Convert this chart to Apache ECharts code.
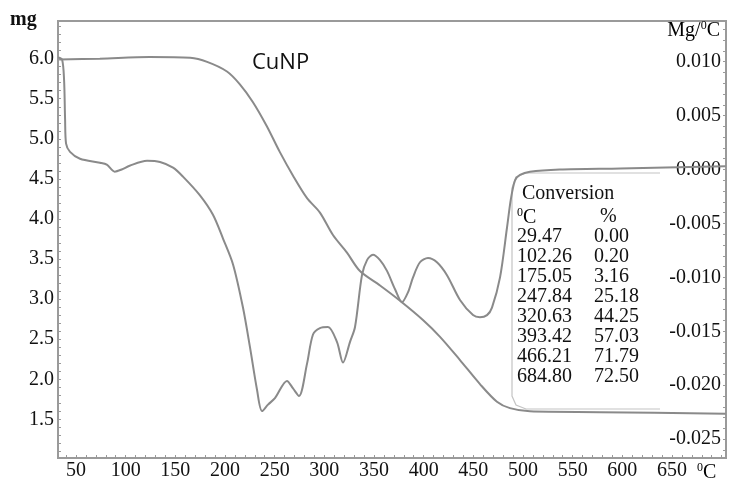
<!DOCTYPE html>
<html>
<head>
<meta charset="utf-8">
<script src="https://cdn.jsdelivr.net/npm/echarts@6/dist/echarts.min.js"></script>
<style>
html,body{margin:0;padding:0;background:#fff;}
#chart{width:730px;height:481px;}
</style>
</head>
<body>
<div id="chart"></div>
<script>
// TG curve (mass, mg) vs temperature (°C)
const tgTemp = [33, 74, 124, 165, 182, 202, 215, 228, 242, 255, 268.5, 282.6, 295.6, 308.7, 322.8, 335.9, 356.1, 376.2, 399.3, 416.5, 436.6, 456.7, 473.8, 486.9, 507, 577.5, 704];
const tgMass = [5.99, 6.0, 6.02, 6.01, 5.96, 5.84, 5.68, 5.46, 5.16, 4.84, 4.54, 4.26, 4.08, 3.80, 3.58, 3.35, 3.17, 2.98, 2.74, 2.53, 2.24, 1.94, 1.72, 1.64, 1.60, 1.59, 1.57];

// DTG curve (Mg/°C) vs temperature (°C)
const dtgTemp = [32, 36, 38, 39, 40, 44, 54, 74, 81, 89, 96, 104, 121.5, 134.6, 147.7, 157.7, 174.8, 187.9, 198, 208.1, 218.1, 225.2, 232.2, 237.3, 243.3, 250.3, 262.4, 268.5, 274.5, 282.6, 288.6, 295.6, 303.7, 312.8, 318.8, 325.8, 330.9, 337.9, 343, 349, 356.1, 363.1, 371.2, 378.2, 384.2, 389.3, 396.3, 404.4, 413.4, 423.5, 436.6, 449.7, 456.7, 463.8, 468.8, 476.9, 483.9, 487.9, 492, 497, 507, 537, 598, 704];
const dtgVal = [0.0104, 0.0102, 0.0083, 0.0047, 0.0024, 0.00164, 0.0010, 0.00063, 0.00045, -0.0002, 0.0000, 0.00035, 0.00081, 0.0007, 0.00017, -0.00066, -0.0024, -0.0042, -0.0064, -0.0088, -0.0128, -0.0165, -0.0204, -0.0224, -0.0218, -0.0212, -0.0196, -0.0203, -0.0210, -0.0180, -0.0153, -0.0147, -0.0146, -0.0160, -0.0179, -0.0160, -0.0146, -0.0098, -0.0084, -0.0079, -0.0084, -0.0094, -0.0111, -0.0123, -0.0114, -0.0100, -0.0086, -0.0082, -0.0086, -0.0098, -0.0121, -0.0135, -0.0137, -0.0135, -0.0128, -0.0100, -0.0054, -0.0027, -0.0010, -0.0005, -0.0002, 0.0000, 0.0001, 0.0003];

// Tick labels
const xTicks = [50, 100, 150, 200, 250, 300, 350, 400, 450, 500, 550, 600, 650];
const mgTicks = [1.5, 2.0, 2.5, 3.0, 3.5, 4.0, 4.5, 5.0, 5.5, 6.0];
const dtgTicks = [-0.025, -0.020, -0.015, -0.010, -0.005, 0.000, 0.005, 0.010];

// Conversion table
const convTemp = ['29.47', '102.26', '175.05', '247.84', '320.63', '393.42', '466.21', '684.80'];
const convPct = ['0.00', '0.20', '3.16', '25.18', '44.25', '57.03', '71.79', '72.50'];

// minor tick positions
const xMinor = []; for (let t = 40; t <= 700; t += 10) xMinor.push(t);
const mgMinor = []; for (let k = 11; k <= 64; k++) mgMinor.push(+(k / 10).toFixed(1));
const dtgMinor = []; for (let k = -26; k <= 13; k++) dtgMinor.push(+(k / 1000).toFixed(3));

const serif = 'Liberation Serif';
const axisCol = '#9a9a9a';
const lineCol = '#8a8a8a';

const chart = echarts.init(document.getElementById('chart'));

const richSup = {
  a: {fontFamily: serif, fontSize: 20, lineHeight: 22, color: '#111', verticalAlign: 'bottom'},
  s: {fontFamily: serif, fontSize: 12, lineHeight: 22, color: '#111', verticalAlign: 'top', padding: [1, 0, 0, 0]}
};
function supText(x, y, pre, post, align) {
  return {type: 'text', x: x, y: y, style: {
    text: (pre ? '{a|' + pre + '}' : '') + '{s|0}{a|' + post + '}',
    rich: richSup, align: align || 'left', verticalAlign: 'top'
  }};
}

const graphics = [];
graphics.push({type: 'text', left: 10, top: 10, style: {text: 'mg', font: 'bold 20px "Liberation Serif"', fill: '#111'}});
graphics.push(supText(720, 19, 'Mg/', 'C', 'right'));
graphics.push(supText(697, 461, '', 'C', 'left'));
graphics.push({type: 'text', left: 252, top: 52, style: {text: 'CuNP', font: '22px "Open Sans"', fill: '#111'}});
graphics.push({type: 'polyline', shape: {points: [[660, 173], [526, 173], [516, 177], [512, 188], [512, 396], [516, 405], [526, 409], [660, 409]]}, style: {stroke: '#c4c4c4', lineWidth: 1.2, fill: null}, silent: true});
graphics.push({type: 'text', left: 522, top: 184, style: {text: 'Conversion', font: '20px "Liberation Serif"', fill: '#111'}});
graphics.push(supText(517, 206, '', 'C', 'left'));
graphics.push({type: 'text', left: 600, top: 207, style: {text: '%', font: '20px "Liberation Serif"', fill: '#111'}});
for (let i = 0; i < convTemp.length; i++) {
  graphics.push({type: 'text', left: 517, top: 227 + i * 19.9, style: {text: convTemp[i], font: '20px "Liberation Serif"', fill: '#111'}});
  graphics.push({type: 'text', left: 594, top: 227 + i * 19.9, style: {text: convPct[i], font: '20px "Liberation Serif"', fill: '#111'}});
}

const option = {
  backgroundColor: '#fff',
  animation: false,
  grid: {left: 58, right: 4, top: 21, bottom: 19, show: true, borderColor: axisCol, borderWidth: 2},
  xAxis: {
    type: 'value', min: 31.88, max: 704.4,
    axisLine: {show: true, onZero: false, lineStyle: {color: axisCol, width: 2}},
    axisTick: {show: true, inside: true, length: 3, customValues: xMinor, lineStyle: {color: axisCol}},
    axisLabel: {customValues: xTicks, color: '#111', fontFamily: serif, fontSize: 20, margin: 3},
    splitLine: {show: false}
  },
  yAxis: [{
    type: 'value', min: 1.018, max: 6.47, position: 'left',
    axisLine: {show: true, onZero: false, lineStyle: {color: axisCol, width: 2}},
    axisTick: {show: true, inside: true, length: 3, customValues: mgMinor, lineStyle: {color: axisCol}},
    axisLabel: {customValues: mgTicks, color: '#111', fontFamily: serif, fontSize: 20, margin: 4,
      formatter: v => v.toFixed(1)},
    splitLine: {show: false}
  }, {
    type: 'value', min: -0.02675, max: 0.01377, position: 'right',
    axisLine: {show: true, onZero: false, lineStyle: {color: axisCol, width: 2}},
    axisTick: {show: true, inside: true, length: 3, customValues: dtgMinor, lineStyle: {color: axisCol}},
    axisLabel: {inside: true, customValues: dtgTicks, color: '#111', fontFamily: serif, fontSize: 20, margin: 5,
      formatter: v => v.toFixed(3)},
    splitLine: {show: false}
  }],
  graphic: graphics,
  series: [{
    type: 'line', yAxisIndex: 0, smooth: 0.3, symbol: 'none',
    lineStyle: {color: lineCol, width: 2},
    data: tgTemp.map((t, i) => [t, tgMass[i]])
  }, {
    type: 'line', yAxisIndex: 1, smooth: 0.3, symbol: 'none',
    lineStyle: {color: lineCol, width: 2},
    data: dtgTemp.map((t, i) => [t, dtgVal[i]])
  }]
};
chart.setOption(option);
</script>
</body>
</html>
